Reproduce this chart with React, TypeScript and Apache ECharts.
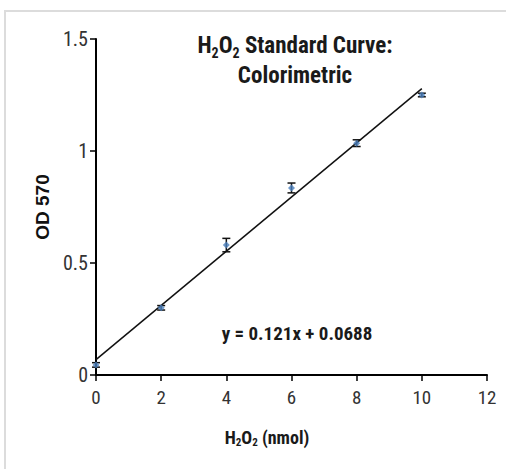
import React, { useEffect, useRef } from "react";
import * as echarts from "echarts";

const amounts = [0, 2, 4, 6, 8, 10];
const od570 = [0.045, 0.30, 0.58, 0.835, 1.035, 1.25];
const errors = [0.01, 0.01, 0.03, 0.022, 0.015, 0.008];
const trendX = [0, 10];
const trendY = [0.0688, 1.2788];
const xTicks = [0, 2, 4, 6, 8, 10, 12];
const yTicks = [0, 0.5, 1, 1.5];

const NARROW = "'Liberation Sans Narrow', 'Arial Narrow', 'Roboto Condensed', Roboto, sans-serif";

export default function App() {
  const ref = useRef<HTMLDivElement>(null);
  useEffect(() => {
    if (!ref.current) return;
    const chart = echarts.init(ref.current, undefined, { renderer: "svg" });
    const points = amounts.map((x, i) => [x, od570[i]]);
    const bars = amounts.map((x, i) => [x, od570[i] - errors[i], od570[i] + errors[i]]);
    chart.setOption({
      animation: false,
      backgroundColor: "#fff",
      grid: { left: 96, right: 19, top: 39, bottom: 94 },
      title: [
        {
          text: "H{sub|2}O{sub|2} Standard Curve:\nColorimetric",
          left: 290,
          top: 25,
          textAlign: "center",
          textStyle: {
            fontFamily: NARROW,
            fontSize: 23,
            fontWeight: "bold",
            color: "#1a1a1a",
            lineHeight: 30,
            align: "center",
            rich: {
              sub: { fontFamily: NARROW, fontSize: 14, fontWeight: "bold", color: "#1a1a1a", verticalAlign: "bottom", lineHeight: 24 },
            },
          },
        },
        {
          text: "H{sub|2}O{sub|2} (nmol)",
          left: 262,
          top: 421,
          textAlign: "center",
          textStyle: {
            fontFamily: NARROW,
            fontSize: 18,
            fontWeight: "bold",
            color: "#1a1a1a",
            lineHeight: 22,
            rich: {
              sub: { fontFamily: NARROW, fontSize: 11, fontWeight: "bold", color: "#1a1a1a", verticalAlign: "bottom", lineHeight: 19 },
            },
          },
        },
      ],
      xAxis: {
        type: "value",
        min: 0,
        max: 12,
        interval: 2,
        splitLine: { show: false },
        axisLine: { onZero: false, lineStyle: { color: "#000", width: 2 } },
        axisTick: { show: true, length: 6, lineStyle: { color: "#000", width: 1.5 } },
        axisLabel: {
          fontFamily: NARROW,
          fontSize: 19,
          color: "#333",
          margin: 13,
          formatter: (v: number) => (xTicks.includes(v) ? String(v) : ""),
        },
      },
      yAxis: {
        type: "value",
        min: 0,
        max: 1.5,
        interval: 0.5,
        splitLine: { show: false },
        axisLine: { lineStyle: { color: "#000", width: 2 } },
        axisTick: { show: true, length: 6, lineStyle: { color: "#000", width: 1.5 } },
        axisLabel: {
          fontFamily: NARROW,
          fontSize: 20,
          color: "#333",
          margin: 8,
          formatter: (v: number) => (yTicks.includes(v) ? String(v) : ""),
        },
        name: "OD 570",
        nameLocation: "middle",
        nameRotate: 90,
        nameGap: 44,
        nameTextStyle: { fontFamily: "Arial, 'Liberation Sans', sans-serif", fontSize: 19, fontWeight: "bold", color: "#111" },
      },
      graphic: [
        {
          type: "rect",
          shape: { x: 5, y: 11, width: 600, height: 600 },
          style: { fill: "none", stroke: "#dcdcdc", lineWidth: 2 },
          silent: true,
        },
        {
          type: "text",
          x: 297,
          y: 333,
          style: {
            text: "y = 0.121x + 0.0688",
            fontFamily: NARROW,
            fontSize: 19,
            fontWeight: "bold",
            fill: "#1a1a1a",
            align: "center",
            verticalAlign: "middle",
          },
        },
      ],
      series: [
        {
          type: "line",
          data: trendX.map((x, i) => [x, trendY[i]]),
          symbol: "none",
          lineStyle: { color: "#111", width: 1.5 },
          z: 2,
        },
        {
          type: "custom",
          data: bars,
          z: 3,
          renderItem: (params: any, api: any) => {
            const x = api.value(0);
            const lo = api.coord([x, api.value(1)]);
            const hi = api.coord([x, api.value(2)]);
            const hw = 4;
            const style = { stroke: "#111", lineWidth: 1.5 };
            return {
              type: "group",
              children: [
                { type: "line", shape: { x1: lo[0], y1: lo[1], x2: hi[0], y2: hi[1] }, style },
                { type: "line", shape: { x1: lo[0] - hw, y1: lo[1], x2: lo[0] + hw, y2: lo[1] }, style },
                { type: "line", shape: { x1: hi[0] - hw, y1: hi[1], x2: hi[0] + hw, y2: hi[1] }, style },
              ],
            };
          },
        },
        {
          type: "scatter",
          data: points,
          symbol: "diamond",
          symbolSize: 7,
          itemStyle: { color: "#4a7ebb" },
          z: 4,
        },
      ],
    });
    return () => chart.dispose();
  }, []);
  return <div ref={ref} style={{ width: 506, height: 469, position: "absolute", left: 0, top: 0 }} />;
}
